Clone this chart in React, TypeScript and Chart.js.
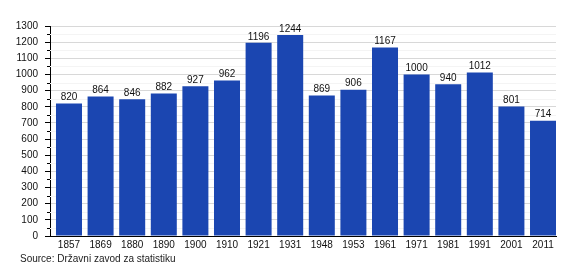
import React, { useEffect, useRef } from "react";
import { Chart, registerables } from "chart.js";

Chart.register(...registerables);

const years = ["1857", "1869", "1880", "1890", "1900", "1910", "1921", "1931", "1948", "1953", "1961", "1971", "1981", "1991", "2001", "2011"];
const population = [820, 864, 846, 882, 927, 962, 1196, 1244, 869, 906, 1167, 1000, 940, 1012, 801, 714];
const sourceText = "Source: Državni zavod za statistiku";

const FONT = "'Liberation Sans', Arial, sans-serif";

const extras = {
  id: "extras",
  beforeDatasetsDraw(chart: any) {
    const ctx = chart.ctx;
    const y = chart.scales.y;
    const area = chart.chartArea;
    ctx.save();
    for (let v = 50; v < 1300; v += 100) {
      const py = Math.round(y.getPixelForValue(v)) + 0.5;
      ctx.strokeStyle = "#f4f4f4";
      ctx.lineWidth = 1;
      ctx.beginPath();
      ctx.moveTo(area.left, py);
      ctx.lineTo(area.right, py);
      ctx.stroke();
      ctx.strokeStyle = "#000";
      ctx.beginPath();
      ctx.moveTo(area.left - 3, py);
      ctx.lineTo(area.left, py);
      ctx.stroke();
    }
    ctx.restore();
  },
  afterDatasetsDraw(chart: any) {
    const ctx = chart.ctx;
    const meta = chart.getDatasetMeta(0);
    ctx.save();
    ctx.font = `10px ${FONT}`;
    ctx.fillStyle = "#111";
    ctx.textAlign = "center";
    ctx.textBaseline = "bottom";
    meta.data.forEach((bar: any, i: number) => {
      ctx.fillText(String(population[i]), bar.x, bar.y - 1);
    });
    ctx.textAlign = "left";
    ctx.textBaseline = "middle";
    ctx.fillStyle = "#222";
    ctx.fillText(sourceText, 20, 259);
    ctx.restore();
  },
};

export default function App() {
  const ref = useRef<HTMLCanvasElement | null>(null);
  useEffect(() => {
    document.body.style.margin = "0";
    const chart = new Chart(ref.current as HTMLCanvasElement, {
      type: "bar",
      data: {
        datasets: [
          {
            data: population.map((v, i) => ({ x: i, y: v })),
            backgroundColor: "#1b46b1",
            borderWidth: 0,
            barPercentage: 0.823,
            categoryPercentage: 1,
          },
        ],
      },
      options: {
        animation: false,
        responsive: false,
        maintainAspectRatio: false,
        layout: { padding: { top: 26, right: 24, left: 0, bottom: 0 } },
        plugins: { legend: { display: false }, tooltip: { enabled: false } },
        scales: {
          x: {
            type: "linear",
            offset: false,
            min: -0.601,
            max: 15.411,
            afterFit: (s: any) => {
              s.height = 44;
            },
            grid: { display: false, drawTicks: false, offset: false },
            border: { display: true, color: "#000", width: 1 },
            ticks: {
              stepSize: 1,
              includeBounds: false,
              autoSkip: false,
              maxRotation: 0,
              padding: 3,
              color: "#111",
              font: { family: FONT, size: 10 },
              callback: (v: any) => (Number.isInteger(v) && years[v] ? years[v] : ""),
            },
          },
          y: {
            min: 0,
            max: 1300,
            afterFit: (s: any) => {
              s.width = 50;
            },
            grid: { color: "#d8d8d8", tickColor: "#000", tickLength: 5, drawTicks: true },
            border: { display: true, color: "#000", width: 1 },
            ticks: {
              stepSize: 100,
              padding: 7,
              color: "#111",
              font: { family: FONT, size: 10 },
              callback: (v: any) => String(v),
            },
          },
        },
      },
      plugins: [extras],
    } as any);
    return () => chart.destroy();
  }, []);
  return <canvas ref={ref} width={580} height={280} style={{ display: "block" }} />;
}
